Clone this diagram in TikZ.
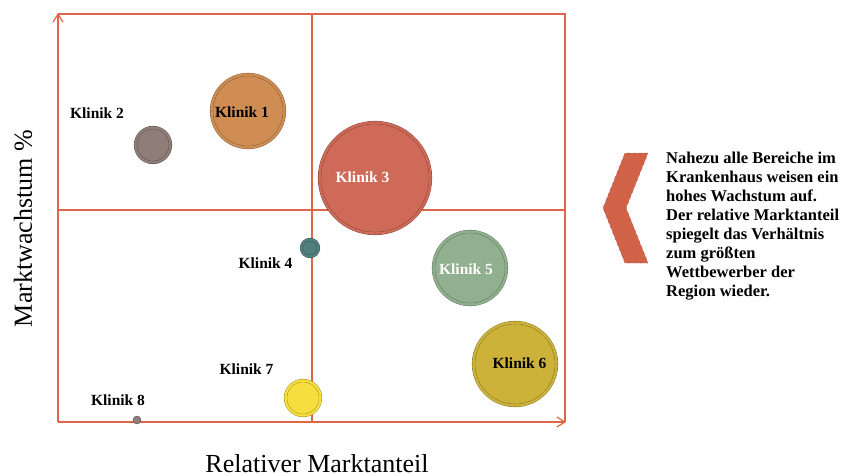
\documentclass[tikz,border=0pt]{standalone}
\usepackage{fontspec}
\setmainfont{Liberation Serif}
\usetikzlibrary{arrows.meta}

\definecolor{achse}{RGB}{222,102,72}
\definecolor{farbeA}{RGB}{207,141,84}
\definecolor{farbeB}{RGB}{143,126,119}
\definecolor{farbeC}{RGB}{207,106,88}
\definecolor{farbeD}{RGB}{82,126,128}
\definecolor{farbeE}{RGB}{145,176,143}
\definecolor{farbeF}{RGB}{204,178,56}
\definecolor{farbeG}{RGB}{245,222,62}
\definecolor{farbeH}{RGB}{140,126,120}
\definecolor{pfeilfarbe}{RGB}{208,98,72}

\begin{document}
\begin{tikzpicture}[x=1pt, y=-1pt, >={Straight Barb[length=8pt,width=10pt]}]
    % stile
    \tikzset{blase/.style={circle, fill=#1, draw=#1!60!black, double=#1, double distance=2.4pt, line width=0.4pt, inner sep=0pt}}
    \tikzstyle{beschrift}=[inner sep=0pt, font=\fontsize{15.5}{18}\selectfont\bfseries]
    \tikzstyle{titel}=[inner sep=0pt, font=\fontsize{26}{30}\selectfont]
    \tikzstyle{linie}=[achse, line width=1.2pt]

    \useasboundingbox (0,0) rectangle (843,476);

    % eckpunkte des rasters
    \coordinate (o) at (58,422);
    \coordinate (ytop) at (58,13);
    \coordinate (xend) at (566,422);
    \coordinate (lo) at (58,14);
    \coordinate (ro) at (565,14);
    \coordinate (ru) at (565,422);
    \coordinate (mo) at (312,14);
    \coordinate (mu) at (312,422);
    \coordinate (ml) at (58,210);
    \coordinate (mr) at (565,210);

    % achsen und raster
    \draw[linie, ->] (o) -- (ytop);
    \draw[linie, ->] (o) -- (xend);
    \draw[linie] (lo) -- (ro) -- (ru);
    \draw[linie] (mo) -- (mu);
    \draw[linie] (ml) -- (mr);

    % blasen
    \node[blase=farbeA, minimum size=73pt] (k1) at (248,111) {};
    \node[blase=farbeB, minimum size=35pt] (k2) at (153,145) {};
    \node[blase=farbeC, minimum size=111pt] (k3) at (375,178) {};
    \node[blase=farbeD, minimum size=17pt] (k4) at (310,248) {};
    \node[blase=farbeE, minimum size=73pt] (k5) at (470,268) {};
    \node[blase=farbeF, minimum size=83pt] (k6) at (515,364) {};
    \node[blase=farbeG, minimum size=35pt] (k7) at (303,398) {};
    \node[circle, fill=farbeH, draw=farbeH!60!black, line width=0.4pt, minimum size=8pt, inner sep=0pt] (k8) at (137,420) {};

    % beschriftungen
    \node[beschrift] (l1) at (242,112.5) {Klinik 1};
    \node[beschrift] (l2) at (97,113) {Klinik 2};
    \node[beschrift, white] (l3) at (362.5,177) {Klinik 3};
    \node[beschrift] (l4) at (265.5,263) {Klinik 4};
    \node[beschrift, white] (l5) at (466,269) {Klinik 5};
    \node[beschrift] (l6) at (519.5,363) {Klinik 6};
    \node[beschrift] (l7) at (246.5,369) {Klinik 7};
    \node[beschrift] (l8) at (118,400) {Klinik 8};

    % achsentitel
    \node[titel, rotate=90] (ylab) at (23,228.5) {Marktwachstum \%};
    \node[titel] (xlab) at (317,464) {Relativer Marktanteil};

    % pfeil und erklaerung
    \filldraw[fill=pfeilfarbe, draw=pfeilfarbe!85!black, dashed, line width=0.4pt]
        (648,153) -- (625,153) -- (603,208) -- (625,263) -- (648,263) -- (626,208) -- cycle;
    \node[anchor=north west, align=left, inner sep=0pt, font=\fontsize{16.5}{19}\selectfont\bfseries] (txt) at (666,152)
        {Nahezu alle Bereiche im\\Krankenhaus weisen ein\\hohes Wachstum auf.\\Der relative Marktanteil\\spiegelt das Verhältnis\\zum größten\\Wettbewerber der\\Region wieder.};
\end{tikzpicture}
\end{document}
